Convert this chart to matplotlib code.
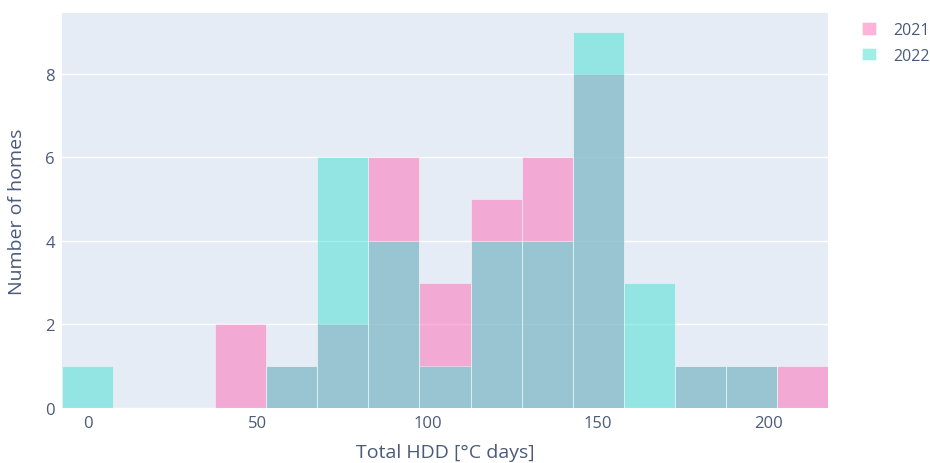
import matplotlib.pyplot as plt

# bin centres (width 15 °C days) and counts per year
bin_centers = [0, 15, 30, 45, 60, 75, 90, 105, 120, 135, 150, 165, 180, 195, 210]
counts_2021 = [0, 0, 0, 2, 1, 2, 6, 3, 5, 6, 8, 0, 1, 1, 1]
counts_2022 = [1, 0, 0, 0, 1, 6, 4, 1, 4, 4, 9, 3, 1, 1, 0]
x_ticks = [0, 50, 100, 150, 200]
y_ticks = [0, 2, 4, 6, 8]

font_color = '#4a5a78'
plt.rcParams['font.family'] = ['Open Sans', 'DejaVu Sans']

fig = plt.figure(figsize=(9.3, 4.64), dpi=100)
ax = fig.add_axes([62 / 930, 1 - 409 / 464, (828 - 62) / 930, (409 - 14) / 464])
ax.set_facecolor('#E5ECF6')

ax.bar(bin_centers, counts_2021, width=15, color='#FF69B4', alpha=0.5,
       edgecolor='white', linewidth=0.6, label='2021', zorder=2)
ax.bar(bin_centers, counts_2022, width=15, color='#40E0D0', alpha=0.5,
       edgecolor='white', linewidth=0.6, label='2022', zorder=3)

ax.set_xlim(-7.5, 217.5)
ax.set_ylim(0, 9.45)
ax.set_xticks(x_ticks)
ax.set_yticks(y_ticks)
ax.grid(axis='y', color='white', linewidth=1, zorder=1)
ax.set_axisbelow(True)
for s in ax.spines.values():
    s.set_visible(False)
ax.tick_params(length=0, colors=font_color, labelsize=12)
ax.tick_params(axis='x', pad=5)
ax.tick_params(axis='y', pad=5)

ax.set_xlabel('Total HDD [°C days]', fontsize=14, color=font_color, labelpad=9)
ax.set_ylabel('Number of homes', fontsize=14, color=font_color, labelpad=14)

fig.legend(loc='upper left', bbox_to_anchor=(862 / 930, 1 - 23 / 464), frameon=False,
           borderpad=0, borderaxespad=0,
           fontsize=11.5, labelcolor=font_color, handlelength=0.85, handleheight=0.85,
           handletextpad=1.1, labelspacing=0.6)

fig.savefig('out.png', dpi=100, facecolor='white')
